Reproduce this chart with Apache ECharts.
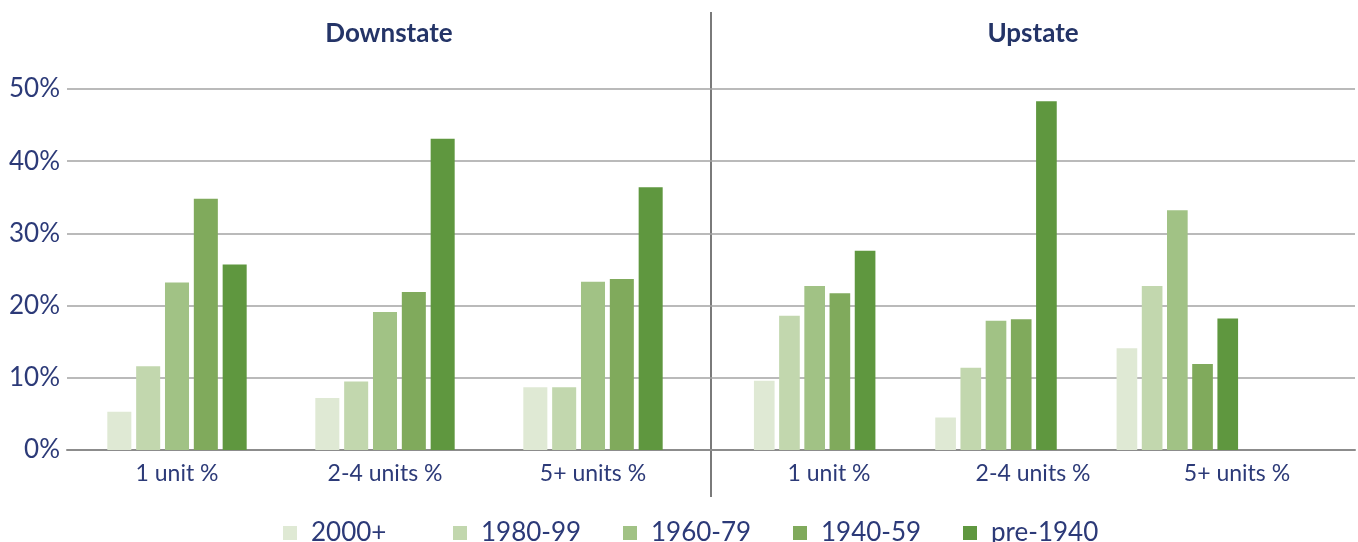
<!DOCTYPE html>
<html>
<head>
<meta charset="utf-8">
<script src="https://cdn.jsdelivr.net/npm/echarts@6/dist/echarts.min.js"></script>
<style>
  html, body { margin: 0; padding: 0; background: #fff; }
  #chart { width: 1358px; height: 542px; }
</style>
</head>
<body>
<div id="chart"></div>
<script>
// data
const regions = ['Downstate', 'Upstate']
const categories = ['1 unit %', '2-4 units %', '5+ units %']
const periods = ['2000+', '1980-99', '1960-79', '1940-59', 'pre-1940']
const colors = ['#dfe9d4', '#c2d7ae', '#a1c285', '#80aa5c', '#5f973f']

const downstate2000 = [5.3, 7.2, 8.7]
const downstate1980 = [11.6, 9.5, 8.7]
const downstate1960 = [23.2, 19.1, 23.3]
const downstate1940 = [34.8, 21.9, 23.7]
const downstatePre = [25.7, 43.1, 36.4]

const upstate2000 = [9.6, 4.5, 14.1]
const upstate1980 = [18.6, 11.4, 22.7]
const upstate1960 = [22.7, 17.9, 33.2]
const upstate1940 = [21.7, 18.1, 11.9]
const upstatePre = [27.6, 48.3, 18.2]

const yTicks = [0, 10, 20, 30, 40, 50]

const downstate = [downstate2000, downstate1980, downstate1960, downstate1940, downstatePre]
const upstate = [upstate2000, upstate1980, upstate1960, upstate1940, upstatePre]

const textColor = '#2c3a78'
const font = 'Lato'
const gridTop = 89
const gridBottom = 92

const hiddenY = (gridIndex) => ({
  type: 'value', gridIndex, min: yTicks[0], max: yTicks[yTicks.length - 1], interval: 10,
  show: false
})

const chart = echarts.init(document.getElementById('chart'))

const barSeries = (values, xAxisIndex, yAxisIndex, gap, barGap) =>
  values.map((vals, i) => ({
    name: periods[i],
    type: 'bar',
    xAxisIndex, yAxisIndex,
    data: vals,
    barGap: barGap,
    barCategoryGap: gap,
    itemStyle: { color: colors[i] },
    emphasis: { disabled: true }
  }))

const option = {
  animation: false,
  textStyle: { fontFamily: font },
  grid: [
    // frame: y labels, grid lines, baseline, titles
    { left: 67, right: 3, top: gridTop, bottom: gridBottom },
    // downstate bars
    { left: 73, width: 624, top: gridTop, bottom: gridBottom },
    // upstate bars
    { left: 724, width: 544, top: gridTop, bottom: gridBottom },
    // upstate labels
    { left: 727, width: 612, top: gridTop, bottom: gridBottom }
  ],
  xAxis: [
    {
      type: 'category', gridIndex: 0, data: ['', ''],
      axisLine: { show: true, lineStyle: { color: '#8c8c8c', width: 2 } },
      axisTick: { show: false }, axisLabel: { show: false }
    },
    {
      type: 'category', gridIndex: 0, position: 'top', data: regions,
      axisLine: { show: false }, axisTick: { show: false },
      axisLabel: { margin: 42, fontSize: 26, fontWeight: 'bold', color: '#243467', fontFamily: font }
    },
    {
      type: 'category', gridIndex: 1, data: categories,
      axisLine: { show: false }, axisTick: { show: false },
      axisLabel: { margin: 12, fontSize: 23, color: textColor, fontFamily: font }
    },
    {
      type: 'category', gridIndex: 2, data: categories,
      axisLine: { show: false }, axisTick: { show: false }, axisLabel: { show: false }
    },
    {
      type: 'category', gridIndex: 3, data: categories,
      axisLine: { show: false }, axisTick: { show: false },
      axisLabel: { margin: 12, fontSize: 23, color: textColor, fontFamily: font }
    }
  ],
  yAxis: [
    {
      type: 'value', gridIndex: 0, min: 0, max: 50, interval: 10,
      axisLine: { show: false }, axisTick: { show: false },
      axisLabel: { formatter: '{value}%', fontSize: 26, color: textColor, margin: 7, fontFamily: font },
      splitLine: { lineStyle: { color: '#a3a3a3', width: 1.5 } }
    },
    hiddenY(1),
    hiddenY(2),
    hiddenY(3)
  ],
  legend: {
    data: periods,
    left: 283,
    top: 519,
    padding: 0,
    icon: 'rect',
    itemWidth: 14,
    itemHeight: 14,
    itemGap: 21,
    selectedMode: false,
    textStyle: {
      fontSize: 26, color: textColor, fontFamily: font,
      width: 121, lineHeight: 28, padding: [0, 0, 0, 9]
    }
  },
  series: [
    ...barSeries(downstate, 2, 1, '33%', '20%'),
    ...barSeries(upstate, 3, 2, '33%', '22%')
  ],
  graphic: [
    {
      type: 'line',
      shape: { x1: 711, y1: 12, x2: 711, y2: 497 },
      style: { stroke: '#7a7a7a', lineWidth: 2 },
      silent: true
    }
  ]
}

chart.setOption(option)
</script>
</body>
</html>
